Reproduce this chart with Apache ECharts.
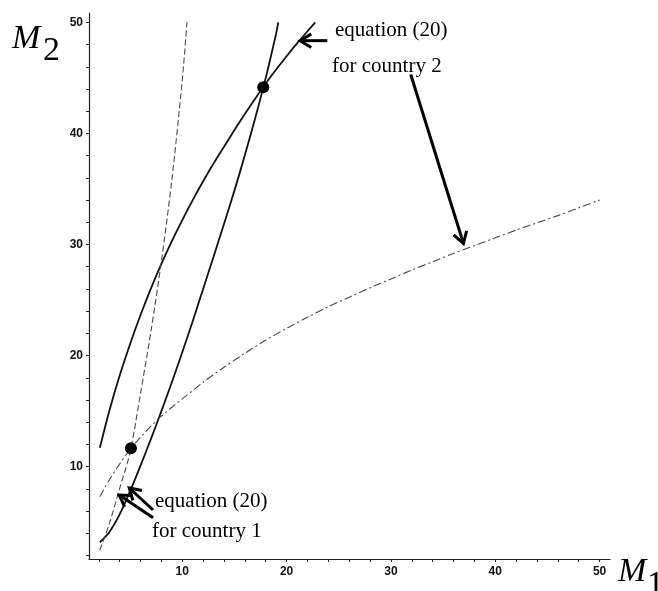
<!DOCTYPE html>
<html>
<head>
<meta charset="utf-8">
<script src="https://cdn.jsdelivr.net/npm/echarts@6/dist/echarts.min.js"></script>
<style>
  html, body { margin: 0; padding: 0; background: #fff; }
  #chart { width: 658px; height: 591px; }
</style>
</head>
<body>
<div id="chart"></div>
<script>
// curves, [M1, M2]
const curveA = [[2.1, 11.7], [3, 15.0], [4, 18.2], [5, 21.05], [6, 23.65], [7, 26.05], [8, 28.25], [9, 30.3], [10, 32.2], [11, 34.0], [12, 35.7], [13, 37.3], [14, 38.8], [15, 40.3], [16, 41.75], [17, 43.15], [18, 44.5], [19, 45.75], [20, 46.95], [21, 48.1], [22, 49.2], [22.75, 50]]
const curveB = [[2.1, 3.2], [3, 4.1], [4, 5.7], [5, 7.8], [6, 10.1], [7, 12.5], [8, 15.0], [9, 17.6], [10, 20.3], [11, 23.1], [12, 26.0], [13, 28.9], [14, 31.85], [15, 34.85], [16, 38.05], [17, 41.4], [18, 45.0], [19, 49.0], [19.2, 50]]
const curveC = [[2.1, 2.5], [3, 4.85], [4, 8.05], [5, 11.3], [6, 16.6], [7, 22.2], [8, 28.5], [9, 35.8], [10, 44.8], [10.45, 50]]
const curveD = [[2.1, 7.3], [3, 8.8], [4, 10.25], [5, 11.55], [6, 12.65], [7, 13.65], [8, 14.55], [9, 15.35], [10, 16.1], [12, 17.6], [14, 18.95], [16, 20.2], [18, 21.4], [20, 22.45], [22, 23.45], [24, 24.4], [26, 25.25], [28, 26.1], [30, 26.9], [32, 27.7], [34, 28.45], [36, 29.2], [38, 29.9], [40, 30.6], [42, 31.3], [44, 31.95], [46, 32.6], [48, 33.3], [50, 34.0]]
const equilibria = [[5.08, 11.66], [17.76, 44.15]]
// arrows: tail x, tail y, tip x, tip y
const arrows = [[23.9, 48.35, 21.3, 48.35], [31.9, 45.3, 36.95, 30.1], [7.2, 5.4, 3.96, 7.45], [7.2, 6.1, 4.92, 8.08]]
const xTicks = [2, 4, 6, 8, 10, 12, 14, 16, 18, 20, 22, 24, 26, 28, 30, 32, 34, 36, 38, 40, 42, 44, 46, 48, 50]
const yTicks = [2, 4, 6, 8, 10, 12, 14, 16, 18, 20, 22, 24, 26, 28, 30, 32, 34, 36, 38, 40, 42, 44, 46, 48, 50]
const xLabels = [10, 20, 30, 40, 50]
const yLabels = [10, 20, 30, 40, 50]

const chart = echarts.init(document.getElementById('chart'))

const tickLabel = {
  fontFamily: 'Liberation Sans',
  fontWeight: 'bold',
  fontSize: 12,
  color: '#111'
}
const serif = 'Liberation Serif'

function axis (min, max, ticks, labels, margin) {
  return {
    type: 'value',
    min: min,
    max: max,
    axisLine: { show: true, onZero: false, lineStyle: { color: '#222', width: 1.2 } },
    axisTick: { show: true, inside: false, length: 3, customValues: ticks, lineStyle: { color: '#222' } },
    axisLabel: Object.assign({ customValues: labels, margin: margin }, tickLabel),
    splitLine: { show: false }
  }
}

function drawArrow (params, api) {
  const tail = api.coord([api.value(0), api.value(1)])
  const tip = api.coord([api.value(2), api.value(3)])
  const ang = Math.atan2(tail[1] - tip[1], tail[0] - tip[0])
  const len = 13
  const spread = 0.55
  const p1 = [tip[0] + len * Math.cos(ang + spread), tip[1] + len * Math.sin(ang + spread)]
  const p2 = [tip[0] + len * Math.cos(ang - spread), tip[1] + len * Math.sin(ang - spread)]
  return {
    type: 'group',
    children: [
      { type: 'line', shape: { x1: tail[0], y1: tail[1], x2: tip[0], y2: tip[1] }, style: { stroke: '#000', lineWidth: 3 } },
      { type: 'polyline', shape: { points: [p1, tip, p2] }, style: { stroke: '#000', lineWidth: 3, fill: null } }
    ]
  }
}

function label (text, x, y, size, italic) {
  return {
    type: 'text',
    x: x,
    y: y,
    style: {
      text: text,
      fontFamily: serif,
      fontSize: size,
      fontStyle: italic ? 'italic' : 'normal',
      fill: '#000',
      align: 'left',
      verticalAlign: 'middle'
    }
  }
}

function curve (name, data, color, width, dash) {
  return {
    name: name,
    type: 'line',
    data: data,
    smooth: 0.3,
    showSymbol: false,
    lineStyle: { color: color, width: width, type: dash }
  }
}

chart.setOption({
  animation: false,
  backgroundColor: '#fff',
  grid: {
    left: 89,
    right: 48,
    top: 13,
    bottom: 32,
    containLabel: false,
    outerBoundsMode: 'none'
  },
  xAxis: axis(1.06, 51, xTicks, xLabels, 7),
  yAxis: axis(1.69, 50.84, yTicks, yLabels, 6),
  series: [
    curve('A', curveA, '#111', 1.8, 'solid'),
    curve('B', curveB, '#111', 1.8, 'solid'),
    curve('C', curveC, '#4a4a4a', 1.1, [6, 3]),
    curve('D', curveD, '#4a4a4a', 1.1, [8, 3, 2, 3]),
    {
      name: 'equilibria',
      type: 'scatter',
      data: equilibria,
      symbolSize: 12,
      itemStyle: { color: '#000', opacity: 1 },
      z: 5
    },
    {
      name: 'arrows',
      type: 'custom',
      data: arrows,
      encode: { x: [0, 2], y: [1, 3] },
      renderItem: drawArrow,
      clip: false,
      z: 6
    }
  ],
  graphic: [
    label('M', 12, 39, 34, true),
    label('2', 43, 51.5, 34, false),
    label('M', 618, 572.5, 34, true),
    label('1', 647, 585, 34, false),
    label('equation (20)', 335, 30, 21, false),
    label('for country 2', 332, 66, 21, false),
    label('equation (20)', 155, 501, 21, false),
    label('for country 1', 152, 531, 21, false)
  ]
})
</script>
</body>
</html>
